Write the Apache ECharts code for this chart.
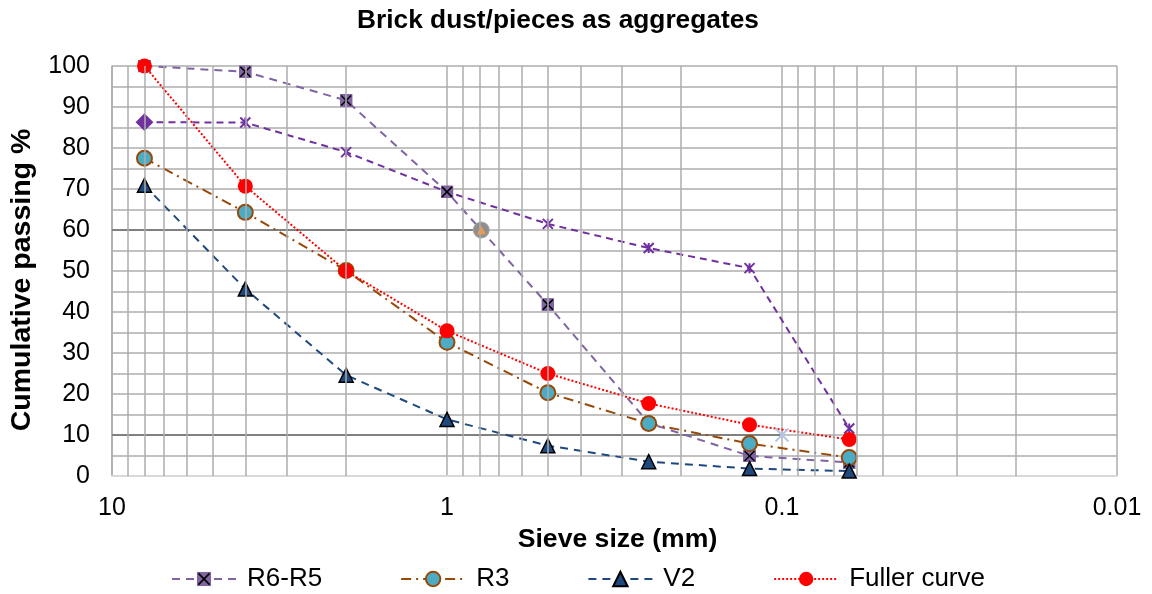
<!DOCTYPE html>
<html><head><meta charset="utf-8">
<script src="https://cdn.jsdelivr.net/npm/echarts@6/dist/echarts.min.js"></script>
<style>html,body{margin:0;padding:0;background:#fff}#c{width:1152px;height:594px}</style>
</head><body><div id="c"></div>
<script>
// ---- data ----
const sieveSizes = [8, 4, 2, 1, 0.5, 0.25, 0.125, 0.063];
const r6r5 = [100, 98.6, 91.6, 69.3, 41.8, 12.9, 4.9, 3.3];
const r3 = [77.5, 64.3, 50.1, 32.6, 20.3, 12.8, 7.9, 4.5];
const v2 = [70.9, 45.6, 24.6, 13.8, 7.4, 3.5, 1.8, 1.2];
const fuller = [100, 70.7, 50, 35.4, 25, 17.7, 12.5, 8.9];
const mix = [86.3, 86.2, 79.0, 69.3, 61.5, 55.6, 50.7, 11.6];
const d60Sizes = [10, 0.79];
const d60Values = [60, 60];
const d10Sizes = [10, 0.1];
const d10Values = [10, 10];
const minorGridSizes = [9, 8, 7, 6, 5, 4, 3, 2, 0.9, 0.8, 0.7, 0.6, 0.5, 0.4, 0.3, 0.2, 0.09, 0.08, 0.07, 0.06, 0.05, 0.04, 0.03, 0.02];
const legendNames = ['R6-R5', 'R3', 'V2', 'Fuller curve'];

const FONT = "'Liberation Sans', Arial, sans-serif";
const GRID_COLOR = '#ADADAD';
const pairs = (xs, ys) => xs.map((x, i) => [x, ys[i]]);

const xSquareSvg = "<svg xmlns='http://www.w3.org/2000/svg' width='26' height='26' viewBox='0 0 26 26'><rect width='26' height='26' fill='#8064A2'/><path d='M3 3L23 23M23 3L3 23' stroke='#000' stroke-width='3' fill='none'/></svg>";
const xSquareSymbol = 'image://data:image/svg+xml;charset=utf-8,' + encodeURIComponent(xSquareSvg);
const asteriskPath = 'path://M0,0L10,10M10,0L0,10M5,0L5,10';
const crossPath = 'path://M0,0L10,10M10,0L0,10';

const common = { type: 'line', silent: true, animation: false, emphasis: { disabled: true } };

const chart = echarts.init(document.getElementById('c'), null, { renderer: 'canvas' });
chart.setOption({
  backgroundColor: '#fff',
  animation: false,
  textStyle: { fontFamily: FONT },
  title: {
    text: 'Brick dust/pieces as aggregates', left: 357, top: 8, padding: 0,
    textStyle: { fontSize: 26.3, fontWeight: 'bold', color: '#000', fontFamily: FONT }
  },
  grid: { left: 111, right: 35, top: 66, bottom: 118, containLabel: false },
  legend: {
    data: legendNames, left: 171, top: 566, padding: 0, itemGap: 78,
    itemWidth: 64, itemHeight: 18, selectedMode: false,
    textStyle: { fontSize: 26, color: '#000', fontFamily: FONT, padding: [0, 0, 0, 6] }
  },
  xAxis: {
    type: 'log', logBase: 10, min: 0.01, max: 10, inverse: true,
    name: 'Sieve size (mm)', nameLocation: 'middle', nameGap: 44,
    nameTextStyle: { fontSize: 26.6, fontWeight: 'bold', color: '#000', fontFamily: FONT, padding: [0, 0, 0, 6] },
    axisLine: { show: true, lineStyle: { color: '#D9D9D9', width: 2 } },
    axisTick: { show: false },
    axisLabel: { fontSize: 25, color: '#000', margin: 20, fontFamily: FONT,
      formatter: v => String(parseFloat(Number(v).toPrecision(6))) },
    splitLine: { show: true, lineStyle: { color: GRID_COLOR, width: 1.5 } }
  },
  yAxis: {
    type: 'value', min: 0, max: 100, interval: 10,
    name: 'Cumulative passing %', nameLocation: 'middle', nameGap: 75,
    nameTextStyle: { fontSize: 28.5, fontWeight: 'bold', color: '#000', fontFamily: FONT, padding: [0, 18, 0, 0] },
    axisLine: { show: true, lineStyle: { color: GRID_COLOR, width: 1.5 } },
    axisTick: { show: false },
    axisLabel: { fontSize: 25, color: '#000', margin: 22, fontFamily: FONT },
    splitLine: { show: true, lineStyle: { color: GRID_COLOR, width: 1.5 } },
    minorTick: { show: false, splitNumber: 2 },
    minorSplitLine: { show: true, lineStyle: { color: GRID_COLOR, width: 1.5 } }
  },
  series: [
    Object.assign({}, common, {
      name: '_grid', data: [], z: 1,
      markLine: {
        silent: true, animation: false, symbol: 'none', label: { show: false },
        lineStyle: { color: GRID_COLOR, width: 1.5, type: 'solid' },
        emphasis: { disabled: true },
        data: minorGridSizes.map(v => ({ xAxis: v }))
      }
    }),
    Object.assign({}, common, {
      name: 'Mix', data: pairs(sieveSizes, mix),
      symbol: (val, p) => p.dataIndex === 0 ? 'diamond' : asteriskPath,
      symbolSize: (val, p) => p.dataIndex === 0 ? 15 : 10,
      lineStyle: { color: '#7030A0', width: 2, type: [7, 5] },
      itemStyle: { color: '#7030A0', borderColor: '#7030A0', borderWidth: 2 }
    }),
    Object.assign({}, common, {
      name: 'D60', data: pairs(d60Sizes, d60Values),
      symbol: (val, p) => p.dataIndex === 0 ? 'none' : 'circle', symbolSize: 16,
      lineStyle: { color: '#808080', width: 2, type: 'solid' },
      itemStyle: { color: '#8F8F8F', borderColor: '#A8A8A8', borderWidth: 1 }
    }),
    Object.assign({}, common, {
      name: 'D60 mark', data: pairs(d60Sizes, d60Values),
      symbol: (val, p) => p.dataIndex === 0 ? 'none' : 'triangle', symbolSize: 9,
      lineStyle: { width: 0, opacity: 0 },
      itemStyle: { color: '#F79646' }
    }),
    Object.assign({}, common, {
      name: 'D10', data: pairs(d10Sizes, d10Values),
      symbol: (val, p) => p.dataIndex === 0 ? 'none' : crossPath, symbolSize: 13,
      lineStyle: { color: '#808080', width: 2, type: 'solid' },
      itemStyle: { color: '#B4C7E7', borderColor: '#B4C7E7', borderWidth: 2 }
    }),
    Object.assign({}, common, {
      name: 'R6-R5', data: pairs(sieveSizes, r6r5),
      symbol: xSquareSymbol, symbolSize: 13,
      lineStyle: { color: '#8064A2', width: 2, type: [8, 6] },
      itemStyle: { color: '#8064A2' }
    }),
    Object.assign({}, common, {
      name: 'R3', data: pairs(sieveSizes, r3),
      symbol: 'circle', symbolSize: 15,
      lineStyle: { color: '#984807', width: 2, type: [10, 5, 2, 5] },
      itemStyle: { color: '#4BACC6', borderColor: '#984807', borderWidth: 2 }
    }),
    Object.assign({}, common, {
      name: 'V2', data: pairs(sieveSizes, v2),
      symbol: 'triangle', symbolSize: 14,
      lineStyle: { color: '#1F497D', width: 2, type: [8, 6] },
      itemStyle: { color: '#1F497D', borderColor: '#000', borderWidth: 1.5 }
    }),
    Object.assign({}, common, {
      name: 'Fuller curve', data: pairs(sieveSizes, fuller),
      symbol: 'circle', symbolSize: 15,
      lineStyle: { color: '#FF0000', width: 2, type: [2, 2] },
      itemStyle: { color: '#FF0000', borderColor: '#FF0000', borderWidth: 0 }
    })
  ]
});
</script></body></html>
